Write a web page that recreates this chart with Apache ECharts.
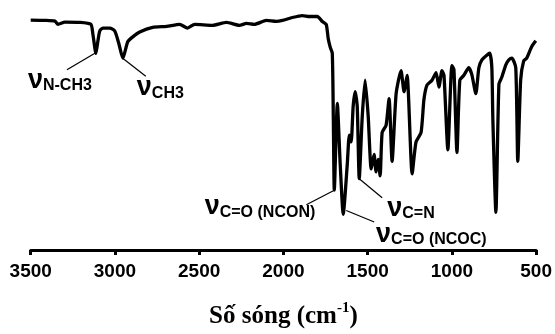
<!DOCTYPE html>
<html>
<head>
<meta charset="utf-8">
<script src="https://cdn.jsdelivr.net/npm/echarts@6/dist/echarts.min.js"></script>
<style>html,body{margin:0;padding:0;background:#fff}#c{width:555px;height:334px}</style>
</head>
<body>
<div id="c"></div>
<script>
// Wavenumbers (cm-1) and relative transmittance
const wavenumbers = [3500,3415,3356,3338,3297,3208,3143,3131,3113,3101,3090,3072,3030,3001,2977,2953,2924,2894,2853,2776,2693,2616,2569,2527,2421,2338,2261,2219,2172,2101,2042,2006,1947,1888,1846,1799,1769,1746,1734,1722,1710,1704,1698,1680,1663,1645,1621,1609,1598,1586,1574,1562,1550,1532,1515,1497,1479,1462,1450,1438,1426,1414,1391,1373,1355,1331,1302,1284,1266,1236,1213,1183,1166,1148,1118,1094,1077,1059,1047,1024,1000,988,970,953,929,900,882,858,840,822,793,775,763,757,739,721,704,680,662,644,621,609,592,574,556,526,502];
const transmittance = [93.8,93.7,93.4,92.1,93.0,92.9,92.1,88.2,80.3,85.4,89.4,90.6,90.6,89.4,84.3,78.3,85.0,87.0,89.0,90.9,91.3,92.1,90.6,92.1,91.7,92.9,91.7,92.5,92.1,93.7,93.3,93.7,94.9,95.7,95.3,95.3,93.3,92.1,86.2,82.7,80.3,54.7,24.4,59.8,35.0,14.6,35.0,46.9,44.1,58.7,64.6,58.7,29.1,54.7,69.3,54.7,33.1,39.0,31.9,37.0,30.3,48.0,50.8,61.8,36.2,63.8,73.2,64.6,71.3,31.1,44.1,48.0,61.4,67.3,69.3,72.4,66.5,73.2,71.3,40.9,75.2,73.6,39.8,69.3,71.3,74.4,71.7,63.8,74.4,77.6,79.5,80.3,74.4,53.5,15.4,67.7,70.5,75.6,77.6,78.3,74.4,36.2,69.3,77.2,78.3,83.1,85.4];
const xTicks = [3500,3000,2500,2000,1500,1000,500];

// Band annotations: subscript text, leader line start (band), leader line end, label anchor, label alignment
const bandNames = ['N-CH3','CH3','C=O (NCON)','C=N','C=O (NCOC)'];
const bandPoints = [[3119,80.3],[2954,78.3],[1698,24.4],[1550,29.1],[1627,16.1]];
const leaderEnds = [[3285,73.6],[2817,70.9],[1864,18.5],[1414,21.3],[1461,11.4]];
const labelAnchors = [[3137,63.8],[2870,60.6],[1811,12.2],[1384,11.4],[1450,0.8]];
const labelAligns = ['right','left','right','left','left'];

const data = wavenumbers.map((w,i)=>[w,transmittance[i]]);
const chart = echarts.init(document.getElementById('c'));
const nuRich = {
  nu:{fontSize:27,fontWeight:'bold',fontFamily:'Liberation Sans',color:'#000',verticalAlign:'bottom',lineHeight:26},
  sub:{fontSize:16,fontWeight:'bold',fontFamily:'Liberation Sans',color:'#000',verticalAlign:'bottom',lineHeight:10}
};
chart.setOption({
  animation:false,
  grid:{left:30.7,right:17.7,top:5,bottom:75},
  xAxis:{
    type:'value',min:500,max:3500,interval:500,inverse:true,
    axisLine:{lineStyle:{color:'#000',width:3}},
    axisTick:{length:5,lineStyle:{color:'#000',width:3}},
    splitLine:{show:false},
    axisLabel:{color:'#000',fontSize:19,fontWeight:'bold',fontFamily:'Liberation Sans',margin:12,
      formatter:v=>(xTicks.indexOf(v)>=0?String(v):'')},
    name:'{t|Số sóng (cm}{sup|-1}{t|)}',nameLocation:'middle',nameGap:51,
    nameTextStyle:{rich:{
      t:{fontFamily:'Liberation Serif',fontSize:25,fontWeight:'bold',color:'#000',verticalAlign:'bottom',lineHeight:28},
      sup:{fontFamily:'Liberation Serif',fontSize:15,fontWeight:'bold',color:'#000',verticalAlign:'top',lineHeight:15}
    }}
  },
  yAxis:{type:'value',min:0,max:100,show:false},
  series:[{
    type:'line',data:data,showSymbol:false,smooth:0.2,
    lineStyle:{color:'#000',width:3.3},
    markLine:{
      silent:true,symbol:'none',
      label:{show:false},
      lineStyle:{color:'#000',width:1.2,type:'solid'},
      data:bandPoints.map((p,i)=>[{coord:p},{coord:leaderEnds[i]}])
    },
    markPoint:{
      silent:true,symbol:'circle',symbolSize:0,
      data:labelAnchors.map((p,i)=>({
        coord:p,
        label:{show:true,position:[0,0],align:labelAligns[i],verticalAlign:'bottom',
          formatter:'{nu|ν}{sub|'+bandNames[i]+'}',rich:nuRich}
      }))
    }
  }]
});
</script>
</body>
</html>
